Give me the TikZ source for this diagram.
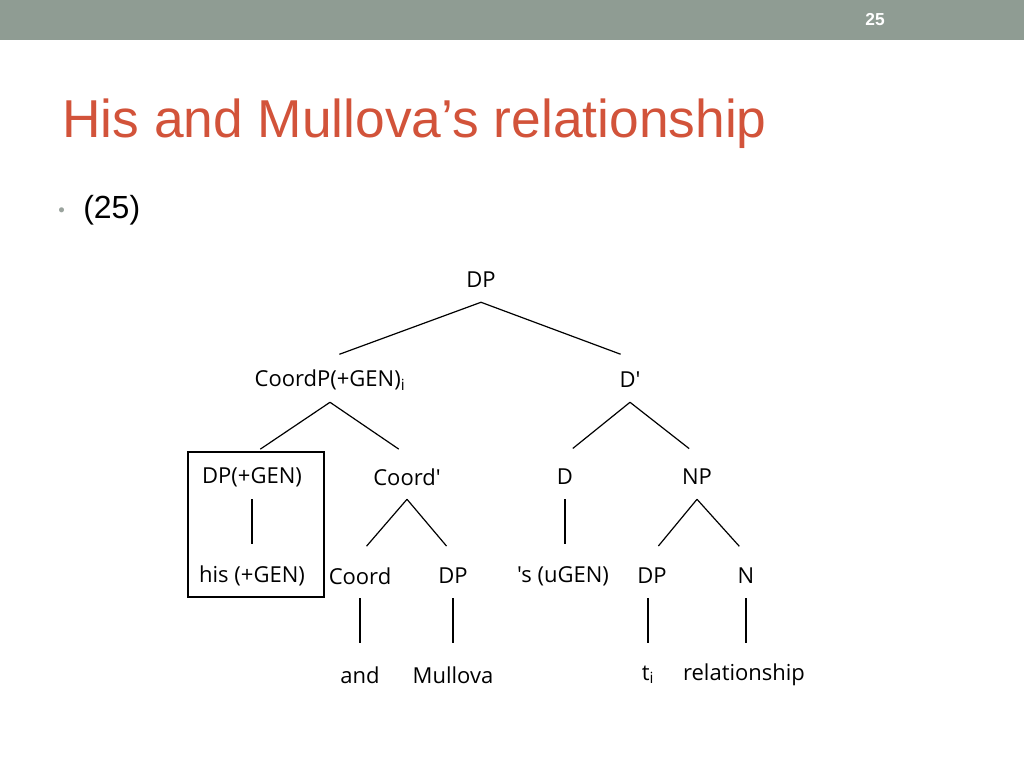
\documentclass[tikz,border=0pt]{standalone}
\usepackage{fontspec}
\setmainfont{Liberation Sans}
\newfontfamily\treefont{Open Sans}
\definecolor{barcol}{HTML}{8F9C93}
\definecolor{titlecol}{HTML}{D2533A}
\definecolor{bulcol}{HTML}{9AA39D}
\begin{document}
\begin{tikzpicture}[x=0.75pt,y=-0.75pt,
  tn/.style={font=\treefont\fontsize{16.5}{19}\selectfont, inner sep=0pt, minimum height=33pt, anchor=center},
  ed/.style={line width=0.9pt, shorten >=7.5pt}]
\useasboundingbox (0,0) rectangle (1024,768);
\fill[barcol] (0,0) rectangle (1024,40);
\node[text=white, font=\fontsize{13}{15}\selectfont\bfseries] (pg) at (875,20) {25};
\node[anchor=base west, inner sep=0pt, text=titlecol, font=\fontsize{40}{44}\selectfont] (title) at (62,137) {His and Mullova’s relationship};
\node[anchor=base west, inner sep=0pt, text=bulcol, font=\fontsize{14}{16}\selectfont] (bdot) at (58,216) {•};
\node[anchor=base west, inner sep=0pt, font=\fontsize{24}{28}\selectfont] (bul) at (83,218) {(25)};
\node[tn] (dp) at (481,280) {DP};
\node[tn] (cp) at (330,380) {CoordP(+GEN)\textsubscript{i}};
\node[tn] (db) at (630,380) {D'};
\node[tn] (dpg) at (252,477) {DP(+GEN)};
\node[tn] (cb) at (407,477) {Coord'};
\node[tn] (d) at (565,477) {D};
\node[tn] (np) at (697,477) {NP};
\node[tn] (his) at (252,576) {his (+GEN)};
\node[tn] (co) at (360,576) {Coord};
\node[tn] (dp2) at (453,576) {DP};
\node[tn] (s) at (563,576) {'s (uGEN)};
\node[tn] (dp3) at (652,576) {DP};
\node[tn] (n) at (746,576) {N};
\node[tn] (and) at (360,675) {and};
\node[tn] (mul) at (453,675) {Mullova};
\node[tn] (t) at (648,675) {t\textsubscript{i}};
\node[tn] (rel) at (744,675) {relationship};
\draw[ed] (dp.south) -- (cp.north);
\draw[ed] (dp.south) -- (db.north);
\draw[ed] (cp.south) -- (dpg.north);
\draw[ed] (cp.south) -- (cb.north);
\draw[ed] (db.south) -- (d.north);
\draw[ed] (db.south) -- (np.north);
\draw[ed] (dpg.south) -- (his.north);
\draw[ed] (cb.south) -- (co.north);
\draw[ed] (cb.south) -- (dp2.north);
\draw[ed] (d.south) -- (d.south|-s.north);
\draw[ed] (np.south) -- (dp3.north);
\draw[ed] (np.south) -- (n.north);
\draw[ed] (co.south) -- (and.north);
\draw[ed] (dp2.south) -- (mul.north);
\draw[ed] (t.north|-dp3.south) -- (t.north);
\draw[ed] (n.south) -- (n.south|-rel.north);
\draw[line width=1.5pt] (188,452) rectangle (324,597);
\end{tikzpicture}
\end{document}
